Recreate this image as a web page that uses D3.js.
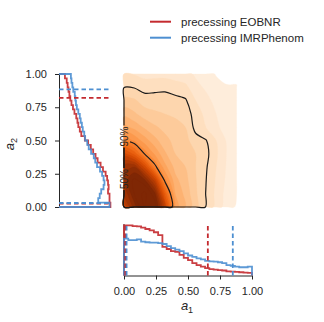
<!DOCTYPE html>
<html>
<head>
<meta charset="utf-8">
<script src="https://cdnjs.cloudflare.com/ajax/libs/d3/7.8.5/d3.min.js"></script>
<style>
body { margin: 0; background: #fff; }
text { font-family: "Liberation Sans", Arial, sans-serif; fill: #262626; }
</style>
</head>
<body>
<script>
// series
var seriesNames = ["precessing EOBNR", "precessing IMRPhenom"];
var seriesColors = ["#c42a2f", "#4d8fd1"];

// marginal histograms, 30 bins over [0, 1] (density)
var nBins = 30;
var a1DensityEOBNR = [1.70, 1.70, 1.68, 1.67, 1.63, 1.58, 1.53, 1.47, 1.37, 0.97, 0.90, 0.83, 0.80, 0.70, 0.60,
                      0.52, 0.42, 0.35, 0.30, 0.25, 0.22, 0.20, 0.18, 0.17, 0.14, 0.13, 0.12, 0.11, 0.10, 0.09];
var a1DensityIMR   = [1.25, 1.20, 1.20, 1.23, 1.15, 1.13, 1.12, 1.12, 1.10, 1.07, 1.00, 0.93, 0.88, 0.83, 0.75,
                      0.68, 0.63, 0.58, 0.55, 0.50, 0.48, 0.47, 0.45, 0.42, 0.35, 0.33, 0.30, 0.28, 0.28, 0.30];
var a2DensityEOBNR = [1.73, 1.70, 1.70, 1.65, 1.67, 1.65, 1.62, 1.57, 1.48, 1.40, 1.30, 1.23, 1.15, 1.07, 0.98,
                      0.87, 0.75, 0.70, 0.65, 0.62, 0.58, 0.52, 0.47, 0.42, 0.38, 0.35, 0.32, 0.29, 0.26, 0.20];
var a2DensityIMR   = [1.70, 1.32, 1.37, 1.42, 1.50, 1.53, 1.50, 1.45, 1.38, 1.28, 1.22, 1.17, 1.08, 1.00, 0.95,
                      0.88, 0.85, 0.80, 0.77, 0.73, 0.70, 0.65, 0.60, 0.57, 0.55, 0.53, 0.48, 0.45, 0.42, 0.40];

// 90% credible bounds (dashed lines)
var a1IntervalEOBNR = [0.01, 0.655];
var a1IntervalIMR   = [0.02, 0.85];
var a2IntervalEOBNR = [0.025, 0.82];
var a2IntervalIMR   = [0.03, 0.885];

// joint density grid (rows: a2 ascending, columns: a1 ascending)
var gridA1 = [0, 0.08, 0.16, 0.24, 0.32, 0.40, 0.48, 0.56, 0.64, 0.72, 0.80, 0.88];
var gridA2 = [0, 0.1, 0.2, 0.3, 0.4, 0.5, 0.6, 0.7, 0.8, 0.9, 1.0];
var jointDensity = [
  [4.6, 5.6, 6.4, 6.3, 4.6, 2.35, 1.9, 1.4, 0.98, 0.6, 0.25, 0.06],
  [5.2, 6.1, 6.5, 5.9, 3.9, 2.2, 1.8, 1.35, 0.99, 0.62, 0.3, 0.1],
  [5.6, 6.2, 5.9, 4.8, 2.9, 2.0, 1.7, 1.32, 1.01, 0.66, 0.35, 0.14],
  [5.4, 5.5, 4.5, 3.15, 2.3, 1.8, 1.6, 1.3, 1.04, 0.7, 0.38, 0.15],
  [4.4, 3.9, 3.0, 2.45, 1.95, 1.6, 1.5, 1.3, 1.1, 0.75, 0.4, 0.15],
  [3.02, 2.75, 2.35, 2.0, 1.7, 1.5, 1.4, 1.12, 1.02, 0.7, 0.38, 0.14],
  [2.3, 2.1, 1.85, 1.65, 1.5, 1.4, 1.3, 0.9, 0.7, 0.45, 0.3, 0.14],
  [1.8, 1.65, 1.45, 1.35, 1.3, 1.25, 1.18, 0.85, 0.62, 0.4, 0.25, 0.13],
  [1.4, 1.35, 1.15, 1.15, 1.15, 1.1, 1.04, 0.7, 0.5, 0.3, 0.2, 0.13],
  [0.99, 0.98, 0.88, 0.9, 0.92, 0.85, 0.78, 0.5, 0.35, 0.2, 0.12, 0.12],
  [0.7, 0.68, 0.6, 0.6, 0.6, 0.55, 0.5, 0.35, 0.22, 0.08, 0.03, 0.02]
];
var contourLevels = [1.0, 3.0];
var contourLabels = ["90%", "50%"];
var contourLabelA2 = [0.53, 0.21];

// axes
var tickValues = [0, 0.25, 0.5, 0.75, 1];
var tickLabels = ["0.00", "0.25", "0.50", "0.75", "1.00"];

var W = 324, H = 322;
var svg = d3.select("body").append("svg").attr("width", W).attr("height", H);

var x = d3.scaleLinear().domain([0, 1]).range([124, 252]);
var y = d3.scaleLinear().domain([0, 1]).range([207, 74]);
var xMarg = d3.scaleLinear().domain([0, 1.75]).range([59, 111]);
var yMarg = d3.scaleLinear().domain([0, 1.75]).range([275.5, 224]);

// ---- joint density
var nx = gridA1.length, ny = gridA2.length;
var values = [].concat.apply([], jointDensity);
var gx = d3.scaleLinear().domain([0.5, nx - 0.5]).range([gridA1[0], gridA1[nx - 1]]).clamp(true);
var gy = d3.scaleLinear().domain([0.5, ny - 0.5]).range([gridA2[0], gridA2[ny - 1]]).clamp(true);
var color = d3.scaleSequential(d3.interpolateOranges).domain([-0.3, 5.8]).clamp(true);
var fillLevels = d3.range(0.1, 6.6, 0.3);

// contour rings drawn as smooth closed curves
var smoothLine = d3.line().curve(d3.curveCatmullRomClosed.alpha(0.5));
function smoothPath(geom) {
  var s = "";
  geom.coordinates.forEach(function(poly) {
    poly.forEach(function(ring) {
      var pts = [];
      ring.forEach(function(p) {
        var q = [x(gx(p[0])), y(gy(p[1]))];
        var last = pts[pts.length - 1];
        if (!last || Math.abs(last[0] - q[0]) > 0.05 || Math.abs(last[1] - q[1]) > 0.05) pts.push(q);
      });
      var f = pts[0], l = pts[pts.length - 1];
      if (pts.length > 1 && Math.abs(f[0] - l[0]) < 0.05 && Math.abs(f[1] - l[1]) < 0.05) pts.pop();
      if (pts.length > 2) s += smoothLine(pts);
    });
  });
  return s;
}

svg.append("g").selectAll("path")
  .data(d3.contours().size([nx, ny]).thresholds(fillLevels)(values))
  .enter().append("path")
  .attr("d", smoothPath)
  .attr("fill-rule", "evenodd")
  .attr("fill", function(d) { return color(d.value); })
  .attr("stroke", function(d) { return color(d.value); })
  .attr("stroke-width", 0.3);

// mask so labels break the contour lines
var mask = svg.append("defs").append("mask").attr("id", "lblmask");
mask.append("rect").attr("width", W).attr("height", H).attr("fill", "#fff");
contourLabels.forEach(function(l, i) {
  mask.append("rect")
    .attr("x", x(0) - 6).attr("y", y(contourLabelA2[i]) - 11)
    .attr("width", 12).attr("height", 22).attr("fill", "#000");
});

svg.append("g").attr("mask", "url(#lblmask)").selectAll("path")
  .data(d3.contours().size([nx, ny]).thresholds(contourLevels)(values))
  .enter().append("path")
  .attr("d", smoothPath)
  .attr("fill", "none")
  .attr("stroke", "#1a1a1a")
  .attr("stroke-width", 1.2);

contourLabels.forEach(function(l, i) {
  svg.append("text")
    .attr("transform", "translate(" + x(0) + "," + y(contourLabelA2[i]) + ") rotate(-90)")
    .attr("text-anchor", "middle")
    .attr("dy", "0.35em")
    .attr("font-size", 10)
    .text(l);
});

// ---- left marginal (a2)
var gLeft = svg.append("g").attr("transform", "translate(" + xMarg(0) + ",0)")
  .call(d3.axisLeft(y).tickValues(tickValues).tickSize(4).tickSizeOuter(0).tickPadding(8)
    .tickFormat(function(d, i) { return tickLabels[i]; }));
svg.append("line").attr("x1", xMarg(0)).attr("x2", xMarg.range()[1])
  .attr("y1", y(0)).attr("y2", y(0)).attr("stroke", "#262626");

// ---- bottom marginal (a1)
var gBot = svg.append("g").attr("transform", "translate(0," + yMarg(0) + ")")
  .call(d3.axisBottom(x).tickValues(tickValues).tickSize(4).tickSizeOuter(0).tickPadding(8)
    .tickFormat(function(d, i) { return tickLabels[i]; }));
svg.append("line").attr("x1", x(0)).attr("x2", x(0))
  .attr("y1", yMarg(0)).attr("y2", yMarg.range()[1]).attr("stroke", "#262626");

[gLeft, gBot].forEach(function(g) {
  g.attr("font-size", 11).attr("font-family", "Liberation Sans, Arial, sans-serif");
  g.selectAll("path, line").attr("stroke", "#262626");
  g.selectAll("text").attr("fill", "#262626");
});

var leftLine = d3.line()
  .x(function(d) { return xMarg(d[0]); })
  .y(function(d) { return y(d[1]); })
  .curve(d3.curveStepBefore);
var botLine = d3.line()
  .x(function(d) { return x(d[0]); })
  .y(function(d) { return yMarg(d[1]); })
  .curve(d3.curveStepAfter);

function leftPts(dens) {
  return [[0, 0]].concat(dens.map(function(v, i) { return [v, i / nBins]; })).concat([[0, 1]]);
}
function botPts(dens) {
  return [[0, 0]].concat(dens.map(function(v, i) { return [i / nBins, v]; })).concat([[1, 0]]);
}

var a1Sets = [a1DensityEOBNR, a1DensityIMR];
var a2Sets = [a2DensityEOBNR, a2DensityIMR];
var a1Ints = [a1IntervalEOBNR, a1IntervalIMR];
var a2Ints = [a2IntervalEOBNR, a2IntervalIMR];

seriesNames.forEach(function(name, s) {
  svg.append("path").attr("d", leftLine(leftPts(a2Sets[s])))
    .attr("fill", "none").attr("stroke", seriesColors[s]).attr("stroke-width", 1.8).attr("opacity", 0.9);
  svg.append("path").attr("d", botLine(botPts(a1Sets[s])))
    .attr("fill", "none").attr("stroke", seriesColors[s]).attr("stroke-width", 1.8).attr("opacity", 0.9);
});

seriesNames.forEach(function(name, s) {
  a2Ints[s].forEach(function(v) {
    svg.append("line")
      .attr("x1", xMarg.range()[0]).attr("x2", xMarg.range()[1])
      .attr("y1", y(v)).attr("y2", y(v))
      .attr("stroke", seriesColors[s]).attr("stroke-width", 1.8).attr("stroke-dasharray", "4.5,3");
  });
  a1Ints[s].forEach(function(v) {
    svg.append("line")
      .attr("x1", x(v)).attr("x2", x(v))
      .attr("y1", yMarg.range()[0]).attr("y2", yMarg.range()[1])
      .attr("stroke", seriesColors[s]).attr("stroke-width", 1.8).attr("stroke-dasharray", "4.5,3");
  });
});

// axis labels
var yl = svg.append("text")
  .attr("transform", "translate(14,144) rotate(-90)")
  .attr("text-anchor", "middle")
  .attr("font-family", "Liberation Serif, serif")
  .attr("font-size", 13);
yl.append("tspan").attr("font-style", "italic").text("a");
yl.append("tspan").attr("font-size", 9).attr("dy", 3).text("2");

var xl = svg.append("text")
  .attr("x", 187).attr("y", 310)
  .attr("text-anchor", "middle")
  .attr("font-family", "Liberation Serif, serif")
  .attr("font-size", 13);
xl.append("tspan").attr("font-style", "italic").text("a");
xl.append("tspan").attr("font-size", 9).attr("dy", 3).text("1");

// legend
var legend = svg.append("g");
seriesNames.forEach(function(name, s) {
  var ly = 21.7 + s * 16;
  legend.append("line").attr("x1", 150).attr("x2", 171).attr("y1", ly).attr("y2", ly)
    .attr("stroke", seriesColors[s]).attr("stroke-width", 2);
  legend.append("text").attr("x", 181).attr("y", ly + 4).attr("font-size", 11.5).text(name);
});
</script>
</body>
</html>
